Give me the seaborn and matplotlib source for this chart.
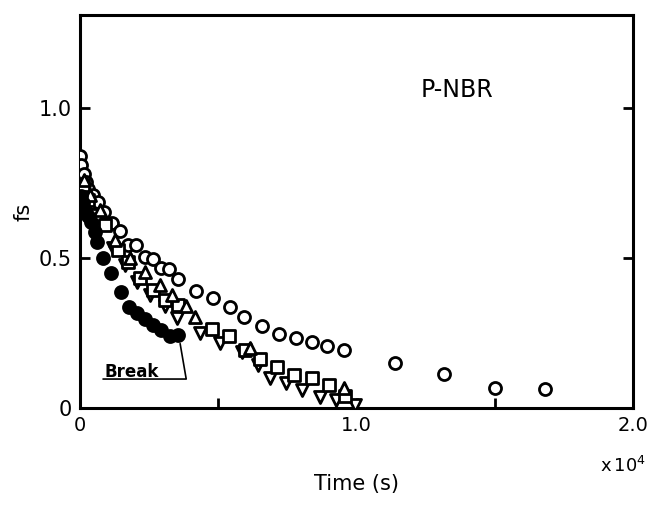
import numpy as np
import pandas as pd
import matplotlib
matplotlib.use("Agg")
import matplotlib.pyplot as plt
import seaborn as sns

# Time (s) and fs
open_t = [0, 36, 145, 217, 289, 470, 651, 868, 1157, 1447, 1736, 2025, 2351,
          2640, 2929, 3219, 3544, 4195, 4810, 5425, 5931, 6582, 7197, 7812,
          8391, 8933, 9548, 11392, 13165, 15009, 16817]
open_fs = [0.84, 0.81, 0.78, 0.753, 0.73, 0.71, 0.687, 0.653, 0.617, 0.59,
           0.543, 0.543, 0.503, 0.497, 0.467, 0.463, 0.43, 0.39, 0.367, 0.337,
           0.303, 0.273, 0.247, 0.233, 0.22, 0.207, 0.193, 0.15, 0.113, 0.067,
           0.063]

filled_t = [36, 108, 181, 289, 398, 543, 615, 832, 1121, 1483, 1772, 2061,
            2351, 2640, 2929, 3255, 3544]
filled_fs = [0.707, 0.683, 0.66, 0.64, 0.62, 0.587, 0.553, 0.5, 0.45, 0.387,
             0.337, 0.317, 0.297, 0.277, 0.26, 0.24, 0.243]

tridown_t = [72, 217, 362, 615, 1193, 1627, 2061, 2532, 3074, 3508, 4340,
             5063, 5859, 6438, 6872, 7450, 8029, 8680, 9259, 9946]
tridown_fs = [0.727, 0.677, 0.643, 0.593, 0.533, 0.477, 0.42, 0.377, 0.34,
              0.3, 0.25, 0.217, 0.187, 0.143, 0.1, 0.083, 0.06, 0.037, 0.027,
              0.01]

square_t = [108, 289, 543, 904, 1374, 1736, 2170, 2640, 3074, 3544, 4774,
            5389, 5967, 6510, 7125, 7740, 8391, 9005, 9584]
square_fs = [0.743, 0.693, 0.643, 0.61, 0.527, 0.487, 0.433, 0.393, 0.36,
             0.343, 0.263, 0.24, 0.193, 0.163, 0.137, 0.11, 0.1, 0.077, 0.04]

triup_t = [145, 362, 723, 1266, 1808, 2351, 2893, 3327, 3834, 4159, 6148, 9548]
triup_fs = [0.76, 0.71, 0.66, 0.56, 0.5, 0.453, 0.41, 0.377, 0.34, 0.303,
            0.2, 0.067]

sns.set_style("ticks")
plt.rcParams["font.family"] = ["DejaVu Sans"]
plt.rcParams.update({"text.color": "black", "axes.labelcolor": "black",
                     "xtick.color": "black", "ytick.color": "black",
                     "axes.edgecolor": "black"})

fig = plt.figure(figsize=(6.48, 5.07), dpi=100)
ax = fig.add_axes([0.1235, 0.195, 0.8535, 0.775])

kw = dict(s=75, linewidth=2.0, edgecolor="black", ax=ax, legend=False, zorder=3)
sns.scatterplot(x=open_t, y=open_fs, marker="o", facecolor="white", **kw)
sns.scatterplot(x=tridown_t, y=tridown_fs, marker="v", facecolor="white", **kw)
sns.scatterplot(x=square_t, y=square_fs, marker="s", facecolor="white", **kw)
sns.scatterplot(x=triup_t, y=triup_fs, marker="^", facecolor="white", **kw)
sns.scatterplot(x=filled_t, y=filled_fs, marker="o", facecolor="black", **kw)

ax.set_xlim(0, 20000)
ax.set_ylim(0, 1.31)
ax.set_xticks([0, 5000, 10000, 15000, 20000])
ax.set_xticklabels(["0", "", "1.0", "", "2.0"], fontsize=14)
ax.set_yticks([0, 0.5, 1.0])
ax.set_yticklabels(["0", "0.5", "1.0"], fontsize=15)
ax.tick_params(direction="in", length=7, width=2, pad=6, right=True)
for s in ax.spines.values():
    s.set_linewidth(2.2)

ax.set_xlabel("Time (s)", fontsize=15, labelpad=28)
ax.set_ylabel("fs", fontsize=15, labelpad=4)

ax.text(0.615, 0.81, "P-NBR", transform=ax.transAxes, fontsize=17, va="center")
fig.text(0.997, 0.08, r"x$\,10^4$", fontsize=13, ha="right", va="center")

# "Break" label with leader line
ax.text(900, 0.105, "Break", fontsize=12, fontweight="bold")
ax.plot([832, 3840, 3620], [0.097, 0.097, 0.215], color="black", lw=1.2)

fig.savefig("out.png", dpi=100)
